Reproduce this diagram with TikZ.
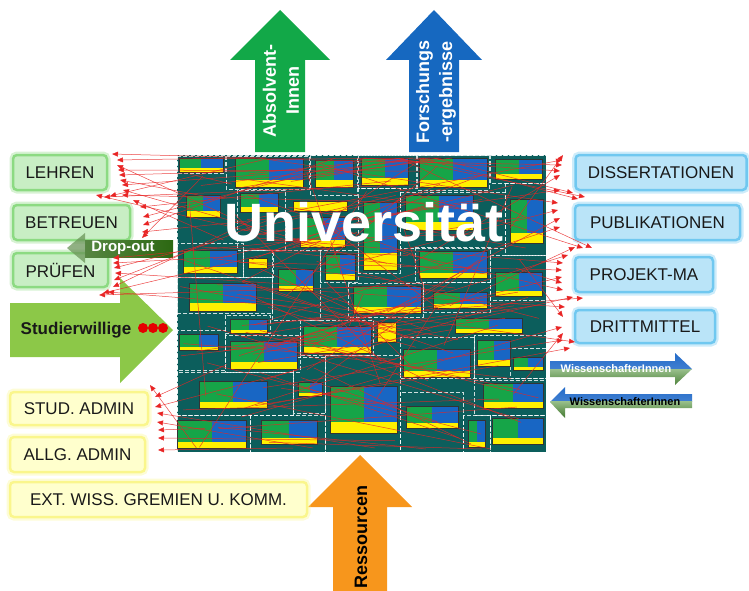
\documentclass[tikz,border=0pt]{standalone}
\usepackage{fontspec}
\setmainfont{Liberation Sans}
\usetikzlibrary{arrows.meta}

\definecolor{uniteal}{RGB}{12,94,92}
\definecolor{unitgreen}{RGB}{22,165,72}
\definecolor{unitblue}{RGB}{24,102,196}
\definecolor{unityellow}{RGB}{255,240,0}
\definecolor{flowred}{RGB}{232,36,36}
\definecolor{lehrfill}{RGB}{200,238,196}
\definecolor{lehredge}{RGB}{140,218,130}
\definecolor{adminfill}{RGB}{255,255,205}
\definecolor{adminedge}{RGB}{250,246,140}
\definecolor{forschfill}{RGB}{186,228,248}
\definecolor{forschedge}{RGB}{112,200,240}
\definecolor{absgreen}{RGB}{18,168,72}
\definecolor{forblue}{RGB}{22,104,192}
\definecolor{resorange}{RGB}{247,150,28}
\definecolor{studgreen}{RGB}{140,200,72}
\definecolor{dropgreen}{RGB}{44,104,18}
\definecolor{wissblue}{RGB}{30,104,200}
\definecolor{wissgreen}{RGB}{70,140,45}

\tikzset{
  sidebox/.style={rounded corners=4pt, line width=2.5pt, inner sep=0pt,
    font=\fontsize{17}{20}\selectfont, text=black!90},
  lehrbox/.style={sidebox, fill=lehrfill, draw=lehredge,
    preaction={draw=lehredge, line width=7pt, draw opacity=0.35}},
  adminbox/.style={sidebox, fill=adminfill, draw=adminedge,
    preaction={draw=adminedge, line width=7pt, draw opacity=0.35}},
  forschbox/.style={sidebox, fill=forschfill, draw=forschedge,
    preaction={draw=forschedge, line width=7pt, draw opacity=0.35}},
  arrowtext/.style={text=white, font=\bfseries\fontsize{18}{23}\selectfont, align=center},
  cellline/.style={draw=white, line width=0.8pt, dash pattern=on 4pt off 2pt, draw opacity=0.8},
  unitedge/.style={draw=black!80, line width=0.5pt},
  flowline/.style={draw=flowred, line width=0.5pt, draw opacity=0.85},
  flowarrow/.style={flowline, -{Triangle[length=6pt,width=5pt]}},
}

% one organisational unit: green | blue on top, yellow bar below
\newcommand{\unitcell}[5]{%
  \fill[unitgreen] (#1,#2) rectangle ({(#1+#3)/2},#5);
  \fill[unitblue] ({(#1+#3)/2},#2) rectangle (#3,#5);
  \fill[unityellow] (#1,#5) rectangle (#3,#4);
  \draw[unitedge] (#1,#2) rectangle (#3,#4);
}

% two-tone fill of a flat arrow: blue above #2, green below
\newcommand{\twotone}[3]{%
  \shade[top color=wissblue, bottom color=wissblue!85!white] (540,#1) rectangle (700,#2);
  \shade[top color=wissgreen!55!white, bottom color=wissgreen!80!black] (540,#2) rectangle (700,#3);
}

\begin{document}
\begin{tikzpicture}[x=1pt,y=-1pt]
\useasboundingbox (0,0) rectangle (749,591);

% arrows out of and into the university
\fill[absgreen] (255,152) -- (255,60) -- (230,60) -- (280,10) -- (330,60) -- (305,60) -- (305,152) -- cycle;
\node[arrowtext, rotate=90] (absolventen) at (281,91) {Absolvent-\\Innen};
\fill[forblue] (409,152) -- (409,60) -- (386,60) -- (434,10) -- (482,60) -- (459,60) -- (459,152) -- cycle;
\node[arrowtext, rotate=90] (forschung) at (436,92) {Forschungs\\-ergebnisse};
\fill[resorange] (333,591) -- (333,507) -- (308,507) -- (360,455) -- (412,507) -- (387,507) -- (387,591) -- cycle;
\node[arrowtext, text=black, rotate=90] (ressourcen) at (361,537) {Ressourcen};

% the university block
\fill[uniteal] (177,155) rectangle (546,452);
\draw[cellline] (177,155) rectangle (546,452);
\foreach \a/\b/\c/\d in {177/156/225/173, 226/156/309/189, 310/155/357/195, 358/155/416/188,
    417/155/489/190, 490/155/546/183, 237/190/285/250, 358/188/400/273, 400/192/505/248,
    505/183/546/255, 177/243/243/277, 243/250/273/277, 177/277/272/313, 272/250/320/320,
    320/250/358/282, 348/283/423/317, 415/247/490/282, 423/282/490/312, 490/255/546/300,
    225/315/270/333, 177/330/225/370, 225/335/300/372, 300/320/373/355, 400/337/474/378,
    474/335/546/378, 510/348/546/378, 177/372/293/415, 293/357/325/413, 325/355/400/452,
    400/392/463/452, 474/380/546/415, 177/415/250/452, 250/415/325/452, 463/415/490/452,
    490/415/546/452}
  \draw[cellline] (\a,\b) rectangle (\c,\d);

\foreach \a/\b/\c/\d/\e in {179/158/223/172/168, 235/158/303/187/180, 315/160/353/187/180,
    361/158/408/185/178, 419/158/487/187/180, 495/159/542/179/174, 186/195/220/217/211,
    240/193/278/212/207, 300/217/345/247/240, 363/202/397/270/253, 405/195/473/230/222,
    510/199/543/243/233, 183/250/237/273/267, 325/254/355/280/274, 278/269/313/291/286,
    419/251/487/278/273, 495/272/542/296/291, 189/283/256/311/303, 353/286/421/313/307,
    433/292/487/308/304, 230/319/267/333/330, 455/318/522/333/329, 179/334/218/350/347,
    230/341/297/369/362, 303/326/371/353/347, 403/349/470/377/371, 477/340/510/366/360,
    513/357/543/370/367, 199/381/267/408/402, 298/382/322/396/393, 330/386/397/433/422,
    483/383/543/408/402, 177/420/246/448/442, 261/420/317/444/438, 406/406/458/428/423,
    468/420/485/447/442, 492/418/543/444/438}
  \unitcell{\a}{\b}{\c}{\d}{\e};
% yellow-only units
\fill[unityellow] (293,201) rectangle (347,211);
\draw[unitedge] (293,201) rectangle (347,211);
\fill[unityellow] (248,258) rectangle (267,268);
\draw[unitedge] (248,258) rectangle (267,268);
\fill[unityellow] (377,322) rectangle (396,342);
\draw[unitedge] (377,322) rectangle (396,342);

% side boxes
\node[lehrbox, minimum width=94pt, minimum height=35pt] (lehren) at (60,172.5) {LEHREN};
\node[lehrbox, minimum width=117pt, minimum height=35pt] (betreuen) at (71.5,222.5) {BETREUEN};
\node[lehrbox, minimum width=95pt, minimum height=34pt] (pruefen) at (60.5,270) {PRÜFEN};
\node[adminbox, minimum width=138pt, minimum height=33pt] (studadmin) at (79,408.5) {STUD. ADMIN};
\node[adminbox, minimum width=135pt, minimum height=35pt] (allgadmin) at (77.5,454.5) {ALLG. ADMIN};
\node[adminbox, minimum width=297pt, minimum height=35pt] (extwiss) at (158.5,499.5) {EXT. WISS. GREMIEN U. KOMM.};
\node[forschbox, minimum width=171pt, minimum height=35pt] (dissertationen) at (661,172.5) {DISSERTATIONEN};
\node[forschbox, minimum width=165pt, minimum height=35pt] (publikationen) at (657.5,222.5) {PUBLIKATIONEN};
\node[forschbox, minimum width=138pt, minimum height=35pt] (projektma) at (644,274.5) {PROJEKT-MA};
\node[forschbox, minimum width=140pt, minimum height=33pt] (drittmittel) at (645,326.5) {DRITTMITTEL};

% drop-out and newcomers
\shade[left color=dropgreen!80!white, right color=dropgreen] (85,240) rectangle (173,257);
\fill[dropgreen!70!white, fill opacity=0.75] (85,233) -- (67,248) -- (85,263) -- cycle;
\node[text=white, font=\bfseries\fontsize{15}{18}\selectfont] (dropout) at (123,248) {Drop-out};
\fill[studgreen] (10,303) -- (120,303) -- (120,278) -- (173,330) -- (120,383) -- (120,357) -- (10,357) -- cycle;
\node[font=\bfseries\fontsize{17}{20}\selectfont, text=black!90] (studierwillige) at (76,330) {Studierwillige};
\foreach \cx in {143,153,163}
  \fill[red!90!black] (\cx,328) circle (5);

% scientists coming and going
\begin{scope}
  \clip (550,361) -- (675,361) -- (675,353) -- (692,369) -- (675,385) -- (675,377) -- (550,377) -- cycle;
  \twotone{350}{369}{390}
\end{scope}
\node[text=white, font=\bfseries\fontsize{11}{13}\selectfont] (wissout) at (616,369) {WissenschafterInnen};
\begin{scope}
  \clip (692,394) -- (565,394) -- (565,387) -- (550,402) -- (565,418) -- (565,408) -- (692,408) -- cycle;
  \twotone{384}{401}{420}
\end{scope}
\node[text=black, font=\bfseries\fontsize{11}{13}\selectfont] (wissin) at (625,402) {WissenschafterInnen};

% links between units
\pgfmathsetseed{31}
\foreach \i in {1,...,55}{
  \pgfmathsetmacro\xa{180+150*rnd}
  \pgfmathsetmacro\ya{158+290*rnd}
  \pgfmathsetmacro\xb{390+152*rnd}
  \pgfmathsetmacro\yb{min(449,max(158,\ya+180*(rnd-0.5)))}
  \draw[flowline] (\xa,\ya) -- (\xb,\yb);
}
\foreach \i in {1,...,20}{
  \pgfmathsetmacro\xa{180+362*rnd}
  \pgfmathsetmacro\ya{158+290*rnd}
  \pgfmathsetmacro\xb{180+362*rnd}
  \pgfmathsetmacro\yb{158+290*rnd}
  \draw[flowline] (\xa,\ya) -- (\xb,\yb);
}

% links to teaching and administration
\foreach \tx/\ty in {112/154, 117/160, 117/165, 118/170, 119/175, 120/180, 122/185, 123/190,
    122/195, 110/196, 104/197, 96/195, 133/200, 140/207, 143/217, 143/225, 142/232, 142/238,
    113/258, 113/263, 114/268, 115/273, 114/280, 113/287, 108/292, 103/293, 99/295,
    150/385, 155/397, 155/407, 157/413, 157/422, 158/430, 158/438, 158/450}{
  \pgfmathsetmacro\sx{185+240*rnd}
  \pgfmathsetmacro\sy{min(448,max(158,\ty+150*(rnd-0.5)))}
  \draw[flowarrow] (\sx,\sy) -- (\tx,\ty);
}

% links to research output
\foreach \tx/\ty in {563/155, 562/160, 562/165, 560/171, 560/175, 560/190, 573/193, 585/197,
    578/199, 558/203, 558/210, 560/218, 560/227, 575/247, 583/248, 592/248, 568/255, 563/263,
    562/270, 562/277, 562/283, 563/290, 573/297, 583/298, 565/307, 563/317, 562/327,
    563/333, 563/340, 575/342, 570/348}{
  \pgfmathsetmacro\sx{200+330*rnd}
  \pgfmathsetmacro\sy{min(448,max(158,\ty+200*(rnd-0.5)))}
  \draw[flowarrow] (\sx,\sy) -- (\tx,\ty);
}

\node[text=white, font=\bfseries\fontsize{54}{60}\selectfont] (universitaet) at (364,222) {Universität};

\end{tikzpicture}
\end{document}
